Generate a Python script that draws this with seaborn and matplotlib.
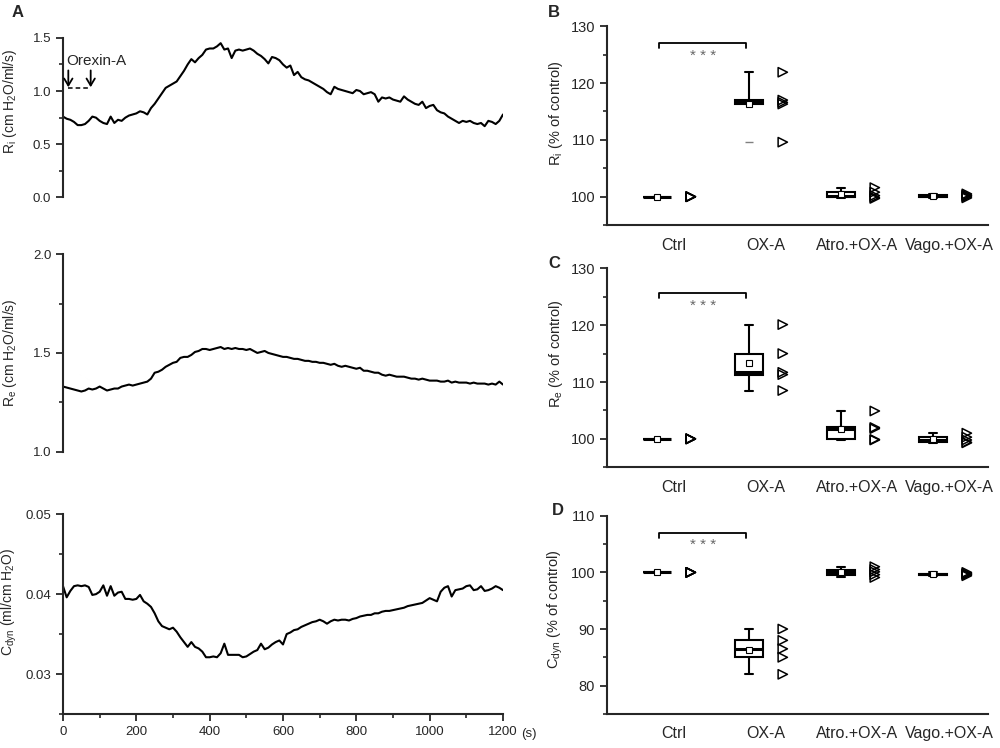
import matplotlib
matplotlib.use('Agg')
import matplotlib.pyplot as plt
from matplotlib.ticker import MultipleLocator
import numpy as np
import seaborn as sns

# time traces (every 10 s)
time_s = np.arange(0, 1201, 10)

ri_trace = [0.76, 0.74, 0.73, 0.71, 0.68, 0.68, 0.69, 0.72, 0.76, 0.75,
            0.72, 0.70, 0.69, 0.76, 0.70, 0.73, 0.72, 0.75, 0.77, 0.78,
            0.79, 0.81, 0.80, 0.78, 0.84, 0.88, 0.93, 0.98, 1.03, 1.05,
            1.07, 1.09, 1.14, 1.19, 1.25, 1.30, 1.27, 1.31, 1.34, 1.39,
            1.40, 1.40, 1.42, 1.45, 1.39, 1.40, 1.31, 1.38, 1.39, 1.38,
            1.39, 1.40, 1.38, 1.35, 1.33, 1.30, 1.26, 1.32, 1.31, 1.29,
            1.25, 1.22, 1.24, 1.15, 1.18, 1.13, 1.11, 1.10, 1.08, 1.06,
            1.04, 1.02, 0.99, 0.97, 1.04, 1.02, 1.01, 1.00, 0.99, 0.98,
            1.01, 1.00, 0.97, 0.98, 0.99, 0.97, 0.90, 0.94, 0.93, 0.94,
            0.92, 0.91, 0.90, 0.95, 0.92, 0.90, 0.88, 0.87, 0.90, 0.84,
            0.86, 0.87, 0.82, 0.80, 0.79, 0.76, 0.74, 0.72, 0.70, 0.72,
            0.71, 0.72, 0.70, 0.69, 0.70, 0.67, 0.72, 0.71, 0.69, 0.72,
            0.78]

re_trace = [1.330, 1.325, 1.320, 1.315, 1.310, 1.305, 1.310, 1.320, 1.315, 1.320,
            1.330, 1.320, 1.310, 1.315, 1.320, 1.320, 1.330, 1.335, 1.340, 1.335,
            1.340, 1.345, 1.350, 1.355, 1.370, 1.400, 1.405, 1.415, 1.430, 1.440,
            1.450, 1.455, 1.475, 1.480, 1.480, 1.490, 1.505, 1.510, 1.520, 1.520,
            1.515, 1.520, 1.525, 1.530, 1.520, 1.525, 1.520, 1.525, 1.520, 1.520,
            1.515, 1.520, 1.510, 1.500, 1.505, 1.510, 1.500, 1.495, 1.490, 1.485,
            1.480, 1.480, 1.475, 1.470, 1.470, 1.465, 1.460, 1.460, 1.455, 1.455,
            1.450, 1.450, 1.445, 1.440, 1.445, 1.435, 1.430, 1.435, 1.430, 1.425,
            1.420, 1.425, 1.410, 1.410, 1.405, 1.400, 1.400, 1.390, 1.385, 1.390,
            1.385, 1.380, 1.380, 1.380, 1.375, 1.370, 1.370, 1.365, 1.370, 1.365,
            1.360, 1.360, 1.360, 1.355, 1.355, 1.360, 1.350, 1.355, 1.350, 1.350,
            1.350, 1.345, 1.350, 1.345, 1.345, 1.345, 1.340, 1.345, 1.340, 1.355,
            1.340]

cdyn_trace = [0.0410, 0.0396, 0.0404, 0.0410, 0.0411, 0.0410, 0.0411, 0.0409, 0.0399, 0.0400,
              0.0403, 0.0411, 0.0398, 0.0410, 0.0398, 0.0402, 0.0403, 0.0394, 0.0394, 0.0393,
              0.0394, 0.0399, 0.0391, 0.0388, 0.0384, 0.0376, 0.0366, 0.0360, 0.0358, 0.0356,
              0.0358, 0.0353, 0.0346, 0.0340, 0.0334, 0.0340, 0.0334, 0.0332, 0.0328, 0.0321,
              0.0321, 0.0322, 0.0321, 0.0326, 0.0338, 0.0324, 0.0324, 0.0324, 0.0324, 0.0321,
              0.0322, 0.0325, 0.0328, 0.0330, 0.0338, 0.0331, 0.0333, 0.0337, 0.0340, 0.0342,
              0.0337, 0.0350, 0.0352, 0.0355, 0.0356, 0.0359, 0.0361, 0.0363, 0.0365, 0.0366,
              0.0368, 0.0366, 0.0363, 0.0366, 0.0368, 0.0367, 0.0368, 0.0368, 0.0367, 0.0369,
              0.0370, 0.0372, 0.0373, 0.0374, 0.0374, 0.0376, 0.0376, 0.0378, 0.0379, 0.0379,
              0.0380, 0.0381, 0.0382, 0.0383, 0.0385, 0.0386, 0.0387, 0.0388, 0.0389, 0.0392,
              0.0395, 0.0393, 0.0391, 0.0403, 0.0408, 0.0410, 0.0397, 0.0405, 0.0406, 0.0407,
              0.0410, 0.0411, 0.0405, 0.0406, 0.0410, 0.0404, 0.0405, 0.0407, 0.0410, 0.0408,
              0.0405]

# group data (% of control)
categories = ['Ctrl', 'OX-A', 'Atro.+OX-A', 'Vago.+OX-A']
ri_pct = [[100, 100, 100, 100, 100],
          [109.6, 116.3, 116.6, 117.0, 121.9],
          [99.7, 99.9, 100.2, 100.8, 101.6],
          [99.8, 100.0, 100.2, 100.3, 100.5]]
re_pct = [[100, 100, 100, 100, 100],
          [108.5, 111.3, 111.7, 115.0, 120.1],
          [99.8, 99.9, 101.8, 102.0, 104.9],
          [99.3, 99.4, 99.8, 100.3, 101.0]]
cdyn_pct = [[100, 100, 100, 100, 100],
            [82.0, 85.0, 86.5, 88.0, 90.0],
            [99.1, 99.6, 100.1, 100.5, 101.0],
            [99.4, 99.6, 99.7, 99.8, 100.0]]

BOX_SHIFT = -0.18
PT_SHIFT = 0.19

sns.set_style('ticks')
plt.rcParams['font.family'] = ['Liberation Sans', 'DejaVu Sans']
plt.rcParams['mathtext.default'] = 'regular'

fig = plt.figure(figsize=(10, 7.48), dpi=100)
axA1 = fig.add_axes([0.063, 0.736, 0.44, 0.2134])
axA2 = fig.add_axes([0.063, 0.396, 0.44, 0.2643])
axA3 = fig.add_axes([0.063, 0.0455, 0.44, 0.267])
axB = fig.add_axes([0.607, 0.699, 0.381, 0.266])
axC = fig.add_axes([0.607, 0.3753, 0.381, 0.266])
axD = fig.add_axes([0.607, 0.0455, 0.381, 0.265])


def trace_panel(ax, vals, ylim, major, minor, ylabel, label_y, show_x=False):
    sns.lineplot(x=time_s, y=vals, ax=ax, color='black', lw=1.5,
                 estimator=None)
    ax.set_xlim(0, 1200)
    ax.set_ylim(*ylim)
    ax.yaxis.set_major_locator(MultipleLocator(major))
    ax.yaxis.set_minor_locator(MultipleLocator(minor))
    ax.set_ylabel(ylabel, fontsize=10)
    ax.yaxis.set_label_coords(-0.1, label_y)
    ax.set_xlabel('')
    ax.tick_params(axis='both', which='major', length=5, width=1.3, labelsize=9.5)
    ax.tick_params(axis='both', which='minor', length=3, width=1.2)
    if show_x:
        sns.despine(ax=ax)
        ax.xaxis.set_major_locator(MultipleLocator(200))
        ax.xaxis.set_minor_locator(MultipleLocator(100))
        ax.spines['bottom'].set_linewidth(1.5)
        ax.text(1250, -0.1, '(s)', transform=ax.get_xaxis_transform(),
                ha='left', va='center', fontsize=9.5)
    else:
        sns.despine(ax=ax, bottom=True)
        ax.set_xticks([])
    ax.spines['left'].set_linewidth(1.5)


trace_panel(axA1, ri_trace, (0, 1.5), 0.5, 0.25,
            'R$_i$ (cm H$_2$O/ml/s)', 0.6)
trace_panel(axA2, re_trace, (1.0, 2.0), 0.5, 0.25,
            'R$_e$ (cm H$_2$O/ml/s)', 0.5)
trace_panel(axA3, cdyn_trace, (0.025, 0.05), 0.01, 0.005,
            'C$_{dyn}$ (ml/cm H$_2$O)', 0.56, show_x=True)
axA3.yaxis.set_major_formatter(plt.FuncFormatter(lambda v, p: f'{v:g}'))

# orexin-A injection marks
axA1.text(8, 1.28, 'Orexin-A', fontsize=11, ha='left', va='center')
for t_inj in (14.5, 75.5):
    axA1.annotate('', xy=(t_inj, 1.01), xytext=(t_inj, 1.22),
                  arrowprops=dict(arrowstyle='->,head_width=0.3,head_length=0.5',
                                  lw=1.3, color='black'))
axA1.plot([14.5, 72], [1.025, 1.025], ls=(0, (3, 2)), lw=1.1, color='black')


def box_panel(ax, groups, ylim, major, ylabel, label_y, bracket_y, whis_list):
    for i, vals in enumerate(groups):
        n = len(vals)
        sns.boxplot(x=np.full(n, i + BOX_SHIFT), y=vals, native_scale=True,
                    orient='x', width=0.3, whis=whis_list[i], color='white',
                    linecolor='black', linewidth=1.5, capwidths=0.09,
                    showmeans=True,
                    meanprops=dict(marker='s', markerfacecolor='white',
                                   markeredgecolor='black', markersize=4,
                                   markeredgewidth=0.8),
                    medianprops=dict(linewidth=2.2),
                    flierprops=dict(marker='_', markeredgecolor='0.5',
                                    markersize=6),
                    ax=ax)
        sns.scatterplot(x=np.full(n, i + PT_SHIFT), y=vals, marker='>', s=45,
                        fc='none', ec='black', linewidth=1.1, ax=ax)
    ax.set_xlim(-0.72, 3.42)
    ax.set_ylim(*ylim)
    ax.set_xticks(range(len(categories)))
    ax.set_xticklabels(categories, fontsize=11.5)
    ax.yaxis.set_major_locator(MultipleLocator(major))
    ax.yaxis.set_minor_locator(MultipleLocator(major / 2))
    ax.tick_params(axis='x', length=0, pad=9)
    ax.tick_params(axis='y', which='major', length=5, width=1.3, labelsize=10.5)
    ax.tick_params(axis='y', which='minor', length=3, width=1.2)
    ax.set_ylabel(ylabel, fontsize=10.5)
    ax.yaxis.set_label_coords(-0.11, label_y)
    ax.set_xlabel('')
    sns.despine(ax=ax)
    for s in ('left', 'bottom'):
        ax.spines[s].set_linewidth(1.5)
    # significance bracket Ctrl vs OX-A
    x0, x1 = 0 + BOX_SHIFT + 0.03, 1 + BOX_SHIFT - 0.03
    tick = (ylim[1] - ylim[0]) * 0.025
    ax.plot([x0, x0, x1, x1], [bracket_y - tick, bracket_y, bracket_y, bracket_y - tick],
            color='black', lw=1.3)
    ax.text((x0 + x1) / 2, bracket_y - 2.2, '* * *', ha='center', va='center',
            fontsize=11, color='0.4')


box_panel(axB, ri_pct, (95, 130), 10, 'R$_i$ (% of control)', 0.56, 127,
          [1.5, (25, 100), 1.5, 1.5])
box_panel(axC, re_pct, (95, 130), 10, 'R$_e$ (% of control)', 0.57, 125.6,
          [1.5, 1.5, 1.5, 1.5])
box_panel(axD, cdyn_pct, (75, 110), 10, 'C$_{dyn}$ (% of control)', 0.53, 107,
          [1.5, 1.5, 1.5, 1.5])

for letter, (fx, fy) in zip('ABCD', [(0.012, 0.983), (0.548, 0.983),
                                     (0.548, 0.648), (0.552, 0.318)]):
    fig.text(fx, fy, letter, fontsize=12, fontweight='bold', ha='left', va='center')

fig.savefig('out.png', dpi=100)
